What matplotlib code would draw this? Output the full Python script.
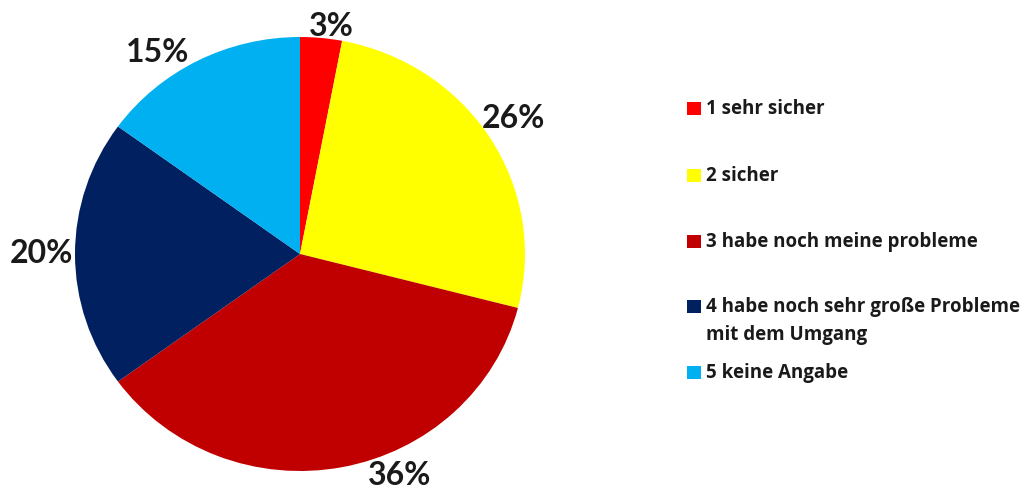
import matplotlib.pyplot as plt
from matplotlib.patches import Rectangle
import numpy as np

# Answers and their shares in percent
labels = ['1 sehr sicher', '2 sicher', '3 habe noch meine probleme',
          '4 habe noch sehr große Probleme\nmit dem Umgang', '5 keine Angabe']
shares = [3, 26, 36, 20, 15]
colors = ['#FF0000', '#FFFF00', '#C00000', '#002060', '#00B0F0']

# where each percent label sits: angle (deg) and distance from centre (radius units)
label_angle = [82.5, 33.5, -66.4, 179.6, 124.0]
label_dist = [1.064, 1.136, 1.111, 1.151, 1.128]

plt.rcParams['font.family'] = ['Lato', 'DejaVu Sans']

W, H = 1033, 489
fig = plt.figure(figsize=(W / 100, H / 100), dpi=100)

# pie axes: centre at (300, 255) px, slightly wider than tall
cx, cy, rx, ry = 300, 255, 225, 217
ax = fig.add_axes([(cx - rx) / W, (H - cy - ry) / H, 2 * rx / W, 2 * ry / H])
ax.pie(shares, colors=colors, startangle=90, counterclock=False,
       radius=1, wedgeprops=dict(linewidth=0))
ax.set_xlim(-1, 1)
ax.set_ylim(-1, 1)
ax.set_aspect('auto')
ax.axis('off')

for val, ang, dist in zip(shares, label_angle, label_dist):
    a = np.deg2rad(ang)
    ax.text(dist * np.cos(a), dist * np.sin(a), f'{val}%', ha='center', va='center',
            fontsize=23, fontweight='bold', color='#1a1a1a', clip_on=False)

# legend drawn by hand in pixel coordinates
lax = fig.add_axes([0, 0, 1, 1], zorder=-1)
lax.set_xlim(0, W)
lax.set_ylim(H, 0)
lax.axis('off')

legend_y = [109, 176, 242, 307, 373]
for lab, col, y in zip(labels, colors, legend_y):
    lax.add_patch(Rectangle((687, y - 6.5), 14, 13, color=col, linewidth=0))
    for i, line in enumerate(lab.split('\n')):
        lax.text(706, y + i * 28, line, ha='left', va='center', family='Open Sans',
                 fontsize=13.5, fontweight='bold', color='#1a1a1a')

fig.savefig('out.png', dpi=100)
